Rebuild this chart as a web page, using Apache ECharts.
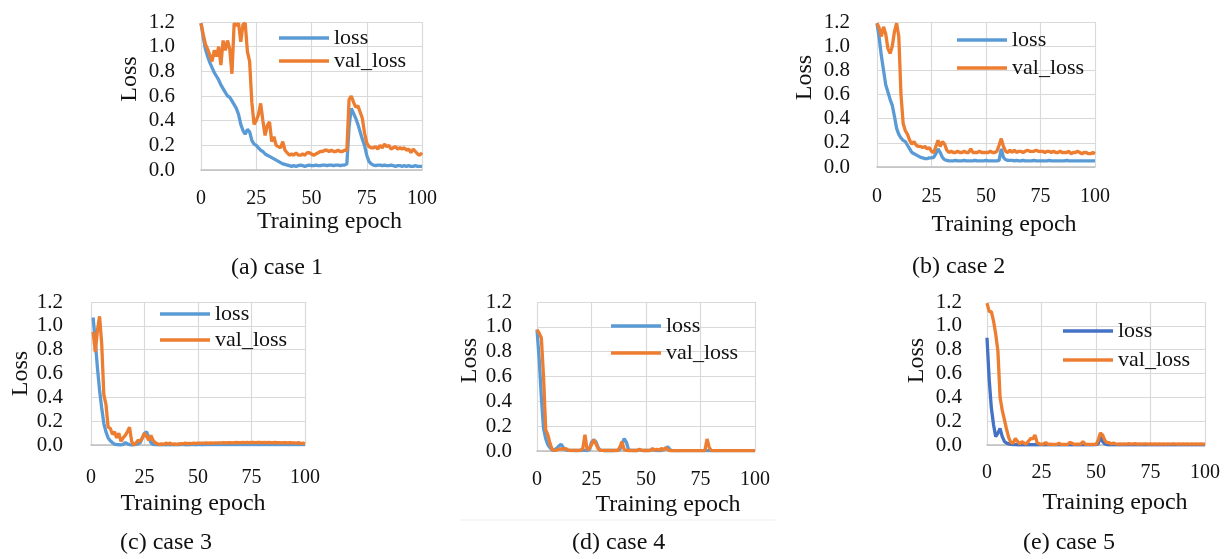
<!DOCTYPE html>
<html lang="en">
  <head>
    <meta charset="UTF-8" />
    <title>Training loss, five cases</title>
    <style>
      html, body { margin: 0; padding: 0; background: #fff; }
    </style>
  </head>
  <body>
    <div id="main" style="width: 1230px; height: 559px"></div>
    <script src="https://cdn.jsdelivr.net/npm/echarts@6/dist/echarts.min.js"></script>
    <script>
      // values, one per epoch
      const xTicks = [0, 25, 50, 75, 100];
      const yTicks = [0, 0.2, 0.4, 0.6, 0.8, 1.0, 1.2];

      const case1Loss = [
        1.19, 1.08, 0.98, 0.92, 0.87, 0.83, 0.79, 0.76, 0.73, 0.69,
        0.66, 0.63, 0.6, 0.59, 0.56, 0.53, 0.5, 0.45, 0.37, 0.32,
        0.29, 0.33, 0.31, 0.24, 0.21, 0.2, 0.18, 0.16, 0.15, 0.13,
        0.12, 0.11, 0.1, 0.09, 0.08, 0.07, 0.06, 0.05, 0.045, 0.04,
        0.035, 0.03, 0.035, 0.03, 0.035, 0.04, 0.035, 0.03, 0.035, 0.04,
        0.035, 0.035, 0.04, 0.035, 0.035, 0.04, 0.04, 0.035, 0.04, 0.04,
        0.035, 0.04, 0.04, 0.035, 0.04, 0.04, 0.05, 0.35, 0.5, 0.46,
        0.42, 0.37, 0.31, 0.25, 0.2, 0.12, 0.07, 0.05, 0.04, 0.035,
        0.04, 0.04, 0.035, 0.04, 0.035, 0.035, 0.04, 0.035, 0.03, 0.035,
        0.035, 0.03, 0.035, 0.03, 0.035, 0.03, 0.03, 0.035, 0.03, 0.03,
        0.03,
      ];
      const case1Val = [
        1.19, 1.1, 1.02, 0.98, 0.93, 0.88, 0.97, 0.92, 1.0, 0.85,
        1.05, 0.97, 1.05, 0.98, 0.78, 1.19, 1.17, 1.19, 1.04, 1.18,
        1.19, 0.96, 0.88, 0.55, 0.37, 0.4, 0.45, 0.54, 0.4, 0.28,
        0.36, 0.39, 0.23, 0.27, 0.2, 0.19, 0.18, 0.23, 0.16, 0.14,
        0.12, 0.13, 0.12, 0.14, 0.12, 0.12, 0.13, 0.12, 0.14, 0.14,
        0.13, 0.12, 0.13, 0.14, 0.15, 0.15, 0.16, 0.16, 0.15, 0.16,
        0.15, 0.15, 0.16, 0.15, 0.15, 0.16, 0.16, 0.57, 0.6, 0.55,
        0.51, 0.52, 0.47, 0.42, 0.3, 0.22, 0.19, 0.18, 0.18, 0.19,
        0.17, 0.2, 0.18, 0.21, 0.19, 0.2, 0.17, 0.18, 0.19, 0.17,
        0.18, 0.17, 0.18, 0.16, 0.17, 0.14, 0.17, 0.15, 0.13, 0.12,
        0.14,
      ];

      const case2Loss = [
        1.19, 1.07, 0.92, 0.8, 0.68, 0.62, 0.56, 0.51, 0.42, 0.32,
        0.27, 0.24, 0.22, 0.21, 0.18, 0.15, 0.12, 0.11, 0.1, 0.09,
        0.08, 0.075, 0.07, 0.07, 0.075, 0.075, 0.08, 0.11, 0.15, 0.12,
        0.08, 0.06, 0.055, 0.05, 0.05, 0.05, 0.055, 0.05, 0.05, 0.05,
        0.055, 0.05, 0.05, 0.05, 0.05, 0.055, 0.05, 0.05, 0.05, 0.05,
        0.055, 0.05, 0.05, 0.05, 0.05, 0.05, 0.055, 0.15, 0.08, 0.06,
        0.055, 0.055, 0.055, 0.05, 0.055, 0.05, 0.05, 0.055, 0.05, 0.05,
        0.05, 0.05, 0.055, 0.05, 0.05, 0.05, 0.05, 0.05, 0.05, 0.055,
        0.05, 0.05, 0.05, 0.05, 0.05, 0.05, 0.05, 0.055, 0.05, 0.05,
        0.05, 0.05, 0.05, 0.05, 0.05, 0.05, 0.05, 0.05, 0.05, 0.05,
        0.05,
      ];
      const case2Val = [
        1.19, 1.15, 1.08, 1.16, 1.1, 0.98, 0.94, 1.0, 1.12, 1.19,
        1.08, 0.6, 0.36, 0.3, 0.27, 0.22, 0.19, 0.21, 0.18, 0.17,
        0.17, 0.16, 0.17, 0.15, 0.16, 0.13, 0.12, 0.17, 0.22, 0.17,
        0.21, 0.19, 0.14, 0.12, 0.13, 0.12, 0.12, 0.13, 0.12, 0.12,
        0.13, 0.12, 0.12, 0.15, 0.12, 0.12, 0.12, 0.13, 0.12, 0.12,
        0.12, 0.12, 0.13, 0.12, 0.12, 0.13, 0.18, 0.235, 0.17, 0.13,
        0.12, 0.14, 0.12, 0.14, 0.12, 0.13, 0.13, 0.12, 0.13, 0.14,
        0.13, 0.13, 0.13, 0.14, 0.13, 0.13, 0.13, 0.12, 0.13, 0.13,
        0.12, 0.13, 0.12, 0.12, 0.13, 0.12, 0.12, 0.12, 0.13, 0.11,
        0.12, 0.12, 0.13, 0.12, 0.11, 0.12, 0.12, 0.11, 0.11, 0.12,
        0.11,
      ];

      // case 3 starts at epoch 1
      const case3Loss = [
        1.07, 0.87, 0.65, 0.46, 0.31, 0.18, 0.11, 0.06, 0.035, 0.02,
        0.008, 0.004, 0.002, 0.0, 0.005, 0.02, 0.01, 0.003, 0.0, 0.002,
        0.005, 0.01, 0.02, 0.06, 0.1, 0.11, 0.06, 0.02, 0.005, 0.003,
        0.002, 0.003, 0.002, 0.003, 0.002, 0.002, 0.003, 0.002, 0.002, 0.003,
        0.002, 0.003, 0.003, 0.002, 0.003, 0.002, 0.003, 0.003, 0.002, 0.003,
        0.003, 0.002, 0.003, 0.003, 0.004, 0.003, 0.003, 0.004, 0.003, 0.003,
        0.004, 0.003, 0.004, 0.003, 0.004, 0.004, 0.003, 0.004, 0.004, 0.003,
        0.004, 0.004, 0.003, 0.004, 0.004, 0.005, 0.004, 0.004, 0.005, 0.004,
        0.004, 0.005, 0.004, 0.005, 0.004, 0.004, 0.005, 0.004, 0.004, 0.005,
        0.004, 0.004, 0.005, 0.004, 0.004, 0.005, 0.004, 0.004, 0.004, 0.004,
      ];
      const case3Val = [
        0.95, 0.78, 0.96, 1.08, 0.85, 0.42, 0.34, 0.15, 0.14, 0.09,
        0.11, 0.06, 0.1, 0.03, 0.06, 0.08, 0.11, 0.15, 0.03, 0.0,
        0.015, 0.04, 0.03, 0.06, 0.1, 0.07, 0.04, 0.08, 0.04, 0.02,
        0.01, 0.005, 0.01, 0.005, 0.015, 0.01, 0.015, 0.005, 0.01, 0.005,
        0.01, 0.012, 0.01, 0.015, 0.012, 0.014, 0.012, 0.015, 0.014, 0.016,
        0.015, 0.016, 0.015, 0.017, 0.016, 0.018, 0.016, 0.017, 0.018, 0.017,
        0.018, 0.02, 0.018, 0.019, 0.02, 0.018, 0.02, 0.021, 0.019, 0.02,
        0.022, 0.02, 0.021, 0.02, 0.022, 0.021, 0.02, 0.022, 0.021, 0.02,
        0.022, 0.02, 0.021, 0.019, 0.02, 0.021, 0.019, 0.02, 0.018, 0.02,
        0.019, 0.018, 0.02, 0.017, 0.018, 0.016, 0.02, 0.012, 0.015, 0.012,
      ];

      const case4Loss = [
        0.977, 0.74, 0.43, 0.18, 0.1, 0.05, 0.025, 0.008, 0.01, 0.02,
        0.04, 0.054, 0.03, 0.01, 0.005, 0.005, 0.004, 0.005, 0.004, 0.005,
        0.004, 0.005, 0.005, 0.004, 0.01, 0.07, 0.09, 0.075, 0.03, 0.005,
        0.005, 0.004, 0.005, 0.004, 0.005, 0.004, 0.005, 0.005, 0.01, 0.06,
        0.1, 0.07, 0.01, 0.005, 0.004, 0.005, 0.004, 0.01, 0.005, 0.004,
        0.004, 0.005, 0.004, 0.01, 0.005, 0.004, 0.005, 0.004, 0.01, 0.02,
        0.035, 0.01, 0.003, 0.003, 0.003, 0.003, 0.003, 0.003, 0.003, 0.003,
        0.003, 0.003, 0.003, 0.003, 0.003, 0.003, 0.003, 0.003, 0.003, 0.003,
        0.003, 0.003, 0.003, 0.003, 0.003, 0.003, 0.003, 0.003, 0.003, 0.003,
        0.003, 0.003, 0.003, 0.003, 0.003, 0.003, 0.003, 0.003, 0.003, 0.003,
        0.003,
      ];
      const case4Val = [
        0.977, 0.95, 0.91, 0.6, 0.17, 0.13, 0.06, 0.01, 0.005, 0.008,
        0.015, 0.018, 0.015, 0.02, 0.01, 0.005, 0.005, 0.005, 0.004, 0.005,
        0.005, 0.02, 0.13, 0.01, 0.02, 0.05, 0.09, 0.06, 0.02, 0.005,
        0.005, 0.004, 0.005, 0.004, 0.005, 0.004, 0.005, 0.004, 0.03, 0.075,
        0.01, 0.005, 0.004, 0.005, 0.004, 0.005, 0.004, 0.015, 0.005, 0.004,
        0.005, 0.004, 0.005, 0.02, 0.005, 0.015, 0.005, 0.02, 0.01, 0.027,
        0.01, 0.003, 0.003, 0.003, 0.003, 0.003, 0.003, 0.003, 0.003, 0.003,
        0.003, 0.003, 0.003, 0.003, 0.003, 0.003, 0.003, 0.003, 0.097, 0.03,
        0.003, 0.003, 0.003, 0.003, 0.003, 0.003, 0.003, 0.003, 0.003, 0.003,
        0.003, 0.003, 0.003, 0.003, 0.003, 0.003, 0.003, 0.003, 0.003, 0.003,
        0.003,
      ];

      const case5Loss = [
        0.9, 0.55, 0.31, 0.17, 0.07, 0.1, 0.14, 0.07, 0.03, 0.015,
        0.01, 0.005, 0.003, 0.003, 0.002, 0.003, 0.002, 0.003, 0.002, 0.002,
        0.003, 0.002, 0.003, 0.002, 0.002, 0.003, 0.002, 0.002, 0.003, 0.002,
        0.002, 0.003, 0.002, 0.002, 0.003, 0.002, 0.002, 0.002, 0.003, 0.002,
        0.002, 0.002, 0.003, 0.002, 0.002, 0.002, 0.003, 0.002, 0.002, 0.002,
        0.003, 0.01, 0.07, 0.03, 0.01, 0.003, 0.002, 0.002, 0.002, 0.002,
        0.002, 0.002, 0.002, 0.002, 0.002, 0.002, 0.002, 0.002, 0.002, 0.002,
        0.002, 0.002, 0.002, 0.002, 0.002, 0.002, 0.002, 0.002, 0.002, 0.002,
        0.002, 0.002, 0.002, 0.002, 0.002, 0.002, 0.002, 0.002, 0.002, 0.002,
        0.002, 0.002, 0.002, 0.002, 0.002, 0.002, 0.002, 0.002, 0.002, 0.002,
        0.002,
      ];
      const case5Val = [
        1.19, 1.12, 1.12, 1.04, 0.93, 0.79, 0.4, 0.29, 0.21, 0.13,
        0.06, 0.02, 0.015, 0.056, 0.03, 0.01, 0.028, 0.015, 0.01, 0.03,
        0.056, 0.05, 0.084, 0.02, 0.01, 0.005, 0.01, 0.02, 0.005, 0.008,
        0.005, 0.005, 0.005, 0.015, 0.005, 0.005, 0.005, 0.005, 0.022, 0.015,
        0.005, 0.008, 0.008, 0.008, 0.028, 0.008, 0.005, 0.005, 0.005, 0.005,
        0.005, 0.04, 0.1, 0.084, 0.04, 0.02, 0.02, 0.01, 0.015, 0.01,
        0.008, 0.01, 0.008, 0.01, 0.008, 0.012, 0.008, 0.01, 0.012, 0.008,
        0.009, 0.008, 0.009, 0.01, 0.008, 0.009, 0.008, 0.009, 0.008, 0.009,
        0.008, 0.009, 0.008, 0.009, 0.008, 0.009, 0.009, 0.008, 0.009, 0.008,
        0.009, 0.008, 0.009, 0.008, 0.009, 0.008, 0.009, 0.008, 0.009, 0.008,
        0.009,
      ];

      const FONT = "'Liberation Serif', 'Times New Roman', serif";
      const BLUE = "#5B9BD5";
      const DARK_BLUE = "#4472C4";
      const ORANGE = "#ED7D31";
      const LINE_W = 3.3;

      // layout of each small chart (pixels in the 1230x559 page)
      const panels = [
        {
          id: "a", caption: "(a) case 1", loss: case1Loss, val: case1Val, start: 0, lossColor: BLUE,
          grid: { left: 201, top: 22, width: 221, height: 148 },
          xMargin: 19, xGap: 40, xShift: 18, yMargin: 26, yGap: 59, yShift: 17,
          legend: { left: 279, top: 27, itemGap: 1 }, cap: [279, 268],
        },
        {
          id: "b", caption: "(b) case 2", loss: case2Loss, val: case2Val, start: 0, lossColor: BLUE,
          grid: { left: 877, top: 22, width: 218, height: 145 },
          xMargin: 20, xGap: 46, xShift: 18, yMargin: 27, yGap: 60, yShift: 17,
          legend: { left: 957, top: 29, itemGap: 6 }, cap: [960, 267],
        },
        {
          id: "c", caption: "(c) case 3", loss: case3Loss, val: case3Val, start: 1, lossColor: BLUE,
          grid: { left: 91, top: 302, width: 214, height: 143 },
          xMargin: 23, xGap: 47, xShift: -5, yMargin: 28, yGap: 57, yShift: 0,
          legend: { left: 160, top: 303, itemGap: 4 }, cap: [168, 543],
        },
        {
          id: "d", caption: "(d) case 4", loss: case4Loss, val: case4Val, start: 0, lossColor: BLUE,
          grid: { left: 537, top: 302, width: 218, height: 149 },
          xMargin: 19, xGap: 42, xShift: 22, yMargin: 25, yGap: 53, yShift: 16,
          legend: { left: 611, top: 315, itemGap: 5 }, cap: [620, 543],
        },
        {
          id: "e", caption: "(e) case 5", loss: case5Loss, val: case5Val, start: 0, lossColor: DARK_BLUE,
          grid: { left: 987, top: 302, width: 218, height: 143 },
          xMargin: 18, xGap: 46, xShift: 19, yMargin: 25, yGap: 58, yShift: 13,
          legend: { left: 1063, top: 320, itemGap: 7 }, cap: [1071, 543],
        },
      ];

      const toPoints = (values, start) => values.map((v, i) => [start + i, v]);

      const option = {
        animation: false,
        textStyle: { fontFamily: FONT },
        grid: [],
        xAxis: [],
        yAxis: [],
        legend: [],
        series: [],
        graphic: [],
      };

      panels.forEach((p, i) => {
        option.grid.push(Object.assign({ containLabel: false }, p.grid));

        option.xAxis.push({
          type: "value",
          gridIndex: i,
          min: xTicks[0],
          max: xTicks[xTicks.length - 1],
          interval: 25,
          name: "Training epoch",
          nameLocation: "middle",
          nameGap: p.xGap,
          nameTextStyle: {
            fontFamily: FONT, fontSize: 24, color: "#111",
            padding: p.xShift >= 0 ? [0, 0, 0, 2 * p.xShift] : [0, -2 * p.xShift, 0, 0],
          },
          axisLine: { show: true, lineStyle: { color: "#BFBFBF", width: 1.5 } },
          axisTick: { show: false },
          axisLabel: { margin: p.xMargin, fontFamily: FONT, fontSize: 20, color: "#111" },
          splitLine: { show: true, lineStyle: { color: "#D9D9D9", width: 1.2 } },
        });

        option.yAxis.push({
          type: "value",
          gridIndex: i,
          min: yTicks[0],
          max: yTicks[yTicks.length - 1],
          interval: 0.2,
          name: "Loss",
          nameLocation: "middle",
          nameGap: p.yGap,
          nameTextStyle: {
            fontFamily: FONT, fontSize: 24, color: "#111",
            padding: [0, 0, 0, 2 * p.yShift],
          },
          axisLine: { show: false },
          axisTick: { show: false },
          axisLabel: {
            margin: p.yMargin, fontFamily: FONT, fontSize: 21, color: "#111",
            formatter: (v) => v.toFixed(1),
          },
          splitLine: { show: true, lineStyle: { color: "#D9D9D9", width: 1.2 } },
        });

        const lossName = p.id + ":loss";
        const valName = p.id + ":val_loss";

        option.series.push(
          {
            name: lossName, type: "line", xAxisIndex: i, yAxisIndex: i,
            data: toPoints(p.loss, p.start), symbol: "none", z: 3,
            lineStyle: { color: p.lossColor, width: LINE_W }, itemStyle: { color: p.lossColor },
          },
          {
            name: valName, type: "line", xAxisIndex: i, yAxisIndex: i,
            data: toPoints(p.val, p.start), symbol: "none", z: 4,
            lineStyle: { color: ORANGE, width: LINE_W }, itemStyle: { color: ORANGE },
          }
        );

        option.legend.push({
          data: [lossName, valName],
          orient: "vertical",
          left: p.legend.left,
          top: p.legend.top,
          itemGap: p.legend.itemGap,
          icon: "rect",
          itemWidth: 50,
          itemHeight: 3.5,
          padding: 0,
          selectedMode: false,
          formatter: (name) => name.split(":")[1],
          textStyle: { fontFamily: FONT, fontSize: 22, color: "#111", lineHeight: 22 },
        });

        option.graphic.push({
          type: "text",
          left: p.cap[0] - 48,
          top: p.cap[1] - 12,
          style: { text: p.caption, font: "24px " + FONT, fill: "#111" },
        });
      });

      // faint rule under case 4
      option.graphic.push({
        type: "line",
        shape: { x1: 460, y1: 520, x2: 775, y2: 520 },
        style: { stroke: "#EDEDED", lineWidth: 1 },
      });

      const chart = echarts.init(document.getElementById("main"));
      chart.setOption(option);
    </script>
  </body>
</html>
